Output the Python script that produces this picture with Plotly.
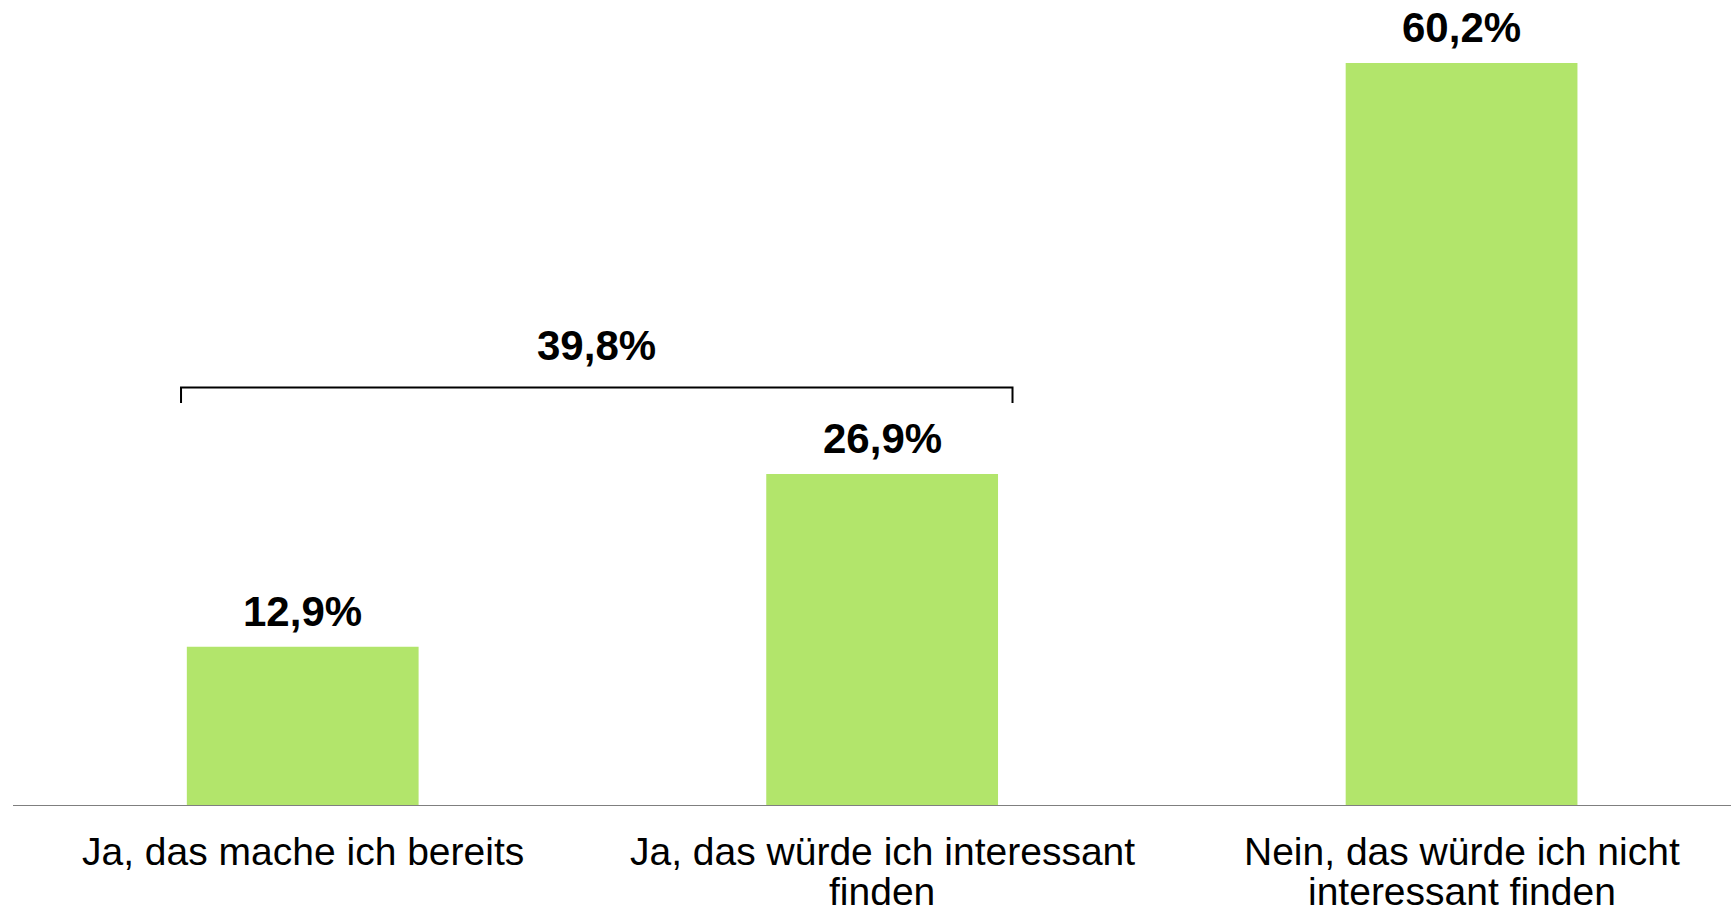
import plotly.graph_objects as go

categories = ["Ja, das mache ich bereits",
              "Ja, das würde ich interessant finden",
              "Nein, das würde ich nicht interessant finden"]
label_lines = [["Ja, das mache ich bereits"],
               ["Ja, das würde ich interessant", "finden"],
               ["Nein, das würde ich nicht", "interessant finden"]]
values = [12.9, 26.9, 60.2]
bracket_total = round(values[0] + values[1], 1)

def fmt(v):
    return f"{v:.1f}".replace(".", ",") + "%"

FONT = "Liberation Sans, Arial, sans-serif"
xs = list(range(len(categories)))

fig = go.Figure()
fig.add_trace(go.Bar(x=xs, y=values, width=0.4, marker=dict(color="#B2E56B", line=dict(width=0)),
                     hoverinfo="skip"))

annotations = []
for x, v in zip(xs, values):
    annotations.append(dict(x=x, y=v, xref="x", yref="y", text=f"<b>{fmt(v)}</b>", showarrow=False,
                            yanchor="bottom", yshift=10, font=dict(family=FONT, size=42, color="#000000")))
for x, lines in zip(xs, label_lines):
    for i, line in enumerate(lines):
        annotations.append(dict(x=x, y=0, xref="x", yref="y", text=line, showarrow=False,
                                yanchor="middle", yshift=-45 - 40 * i,
                                font=dict(family=FONT, size=39, color="#000000")))

# bracket over first two bars
bx0, bx1 = -0.21, 1.225
by, bdrop = 33.9, 1.25
annotations.append(dict(x=(bx0 + bx1) / 2, y=by, xref="x", yref="y", text=f"<b>{fmt(bracket_total)}</b>",
                        showarrow=False, yanchor="middle", yshift=42,
                        font=dict(family=FONT, size=42, color="#000000")))

shapes = [
    dict(type="path", xref="x", yref="y",
         path=f"M {bx0} {by - bdrop} L {bx0} {by} L {bx1} {by} L {bx1} {by - bdrop}",
         line=dict(color="#000000", width=2)),
]

fig.update_layout(
    width=1731, height=909,
    margin=dict(l=13, r=0, t=0, b=103),
    paper_bgcolor="white", plot_bgcolor="white",
    showlegend=False,
    annotations=annotations,
    shapes=shapes,
    xaxis=dict(range=[-0.5, 2.465], showticklabels=False, showgrid=False, zeroline=False,
               showline=False, ticks=""),
    yaxis=dict(range=[0, 65.3], visible=False, showgrid=False, zeroline=False),
)
fig.add_shape(type="line", xref="paper", yref="y", x0=0, x1=1, y0=0, y1=0,
              line=dict(color="#7F7F7F", width=2))

fig.write_html("out.html", config={"displayModeBar": False},
               post_script="document.body.style.margin='0';document.body.style.overflow='hidden';")
